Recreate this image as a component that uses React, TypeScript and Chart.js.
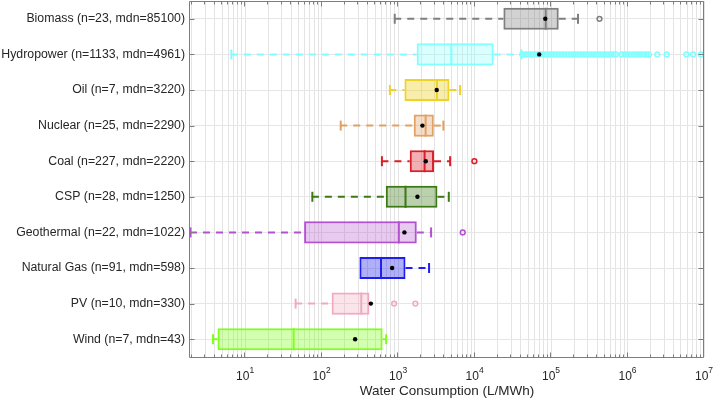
import React, { useEffect, useRef } from "react";
import { Chart, registerables } from "chart.js";

Chart.register(...registerables);

// ---------- data ----------
const categories = [
  "Biomass (n=23, mdn=85100)",
  "Hydropower (n=1133, mdn=4961)",
  "Oil (n=7, mdn=3220)",
  "Nuclear (n=25, mdn=2290)",
  "Coal (n=227, mdn=2220)",
  "CSP (n=28, mdn=1250)",
  "Geothermal (n=22, mdn=1022)",
  "Natural Gas (n=91, mdn=598)",
  "PV (n=10, mdn=330)",
  "Wind (n=7, mdn=43)",
];

const whiskerLow = [890, 6.5, 770, 175, 605, 74.5, 1.9, 312, 45, 3.74];
const quartile1 = [23800, 1750, 1210, 1600, 1420, 690, 59, 312, 135, 4.35];
const medians = [85100, 4961, 3220, 2290, 2220, 1250, 1022, 598, 330, 43];
const quartile3 = [126000, 17800, 4690, 2930, 2950, 3270, 1754, 1250, 422, 627];
const whiskerHigh = [225000, 41000, 6460, 3910, 4790, 4600, 2700, 2540, 422, 697];
const means = [84000, 70000, 3200, 2080, 2300, 1790, 1210, 835, 440, 274];

const biomassOutliers = [430000];
const hydroOutliers = [
  42000, 46000, 50000, 55000, 60000, 66000, 72000, 79000, 87000, 95000,
  104000, 114000, 125000, 137000, 150000, 165000, 181000, 198000, 217000,
  238000, 261000, 286000, 314000, 344000, 377000, 413000, 453000, 497000,
  545000, 597000, 655000, 705000, 835000, 915000, 1000000, 1100000, 1210000,
  1330000, 1460000, 1600000, 1760000, 1900000, 2450000, 3250000, 5900000,
  7200000, 9100000,
];
const coalOutliers = [9940];
const geoOutliers = [7000];
const pvOutliers = [887, 1683];
const outliers: number[][] = [
  biomassOutliers, hydroOutliers, [], [], coalOutliers, [], geoOutliers, [], pvOutliers, [],
];

const strokeColors = [
  "#7f7f7f", "#80ffff", "#eed228", "#e1a064", "#dc1e28",
  "#3c7814", "#b450d2", "#1e1ef0", "#f0aabe", "#80ff1e",
];
const fillColors = [
  "rgba(127,127,127,0.35)", "rgba(128,255,255,0.3)", "rgba(238,210,40,0.4)",
  "rgba(225,160,100,0.35)", "rgba(220,30,40,0.35)", "rgba(60,120,20,0.35)",
  "rgba(180,80,210,0.3)", "rgba(30,30,240,0.35)", "rgba(240,170,190,0.3)",
  "rgba(128,255,30,0.35)",
];

const decadeExponents = [1, 2, 3, 4, 5, 6, 7];
const xMin = 1.9;
const xMax = 1e7;
const axisTitle = "Water Consumption (L/MWh)";

const FONT = "'Liberation Sans', Arial, Helvetica, sans-serif";
const TEXT = "#262626";
const BOX_FRACTION = 0.62;

function gridTickValues(): number[] {
  const vals: number[] = [];
  for (let e = 0; e <= 6; e++) {
    for (let m = 1; m <= 9; m++) {
      const v = m * Math.pow(10, e);
      if (v >= xMin && v <= xMax) vals.push(v);
    }
  }
  vals.push(xMax);
  return vals;
}

const boxPlugin = {
  id: "boxplotExtras",
  afterDatasetsDraw(chart: any) {
    const { ctx, scales } = chart;
    const x = scales.x;
    const y = scales.y;
    const step = Math.abs(y.getPixelForValue(1) - y.getPixelForValue(0));
    const bh = step * BOX_FRACTION;
    const capH = 10;
    ctx.save();
    const line = (x1: number, y1: number, x2: number, y2: number) => {
      ctx.beginPath();
      ctx.moveTo(x1, y1);
      ctx.lineTo(x2, y2);
      ctx.stroke();
    };
    categories.forEach((_, i) => {
      const yc = y.getPixelForValue(i);
      const c = strokeColors[i];
      ctx.strokeStyle = c;
      ctx.lineWidth = 2;
      const pLo = x.getPixelForValue(whiskerLow[i]);
      const pQ1 = x.getPixelForValue(quartile1[i]);
      const pQ3 = x.getPixelForValue(quartile3[i]);
      const pHi = x.getPixelForValue(whiskerHigh[i]);
      const pMed = x.getPixelForValue(medians[i]);
      ctx.setLineDash([7, 6]);
      if (pQ1 - pLo > 1) line(pLo, yc, pQ1, yc);
      if (pHi - pQ3 > 1) line(pQ3, yc, pHi, yc);
      ctx.setLineDash([]);
      if (pQ1 - pLo > 1) line(pLo + 0.5, yc - capH / 2, pLo + 0.5, yc + capH / 2);
      if (pHi - pQ3 > 1) line(pHi, yc - capH / 2, pHi, yc + capH / 2);
      line(pMed, yc - bh / 2, pMed, yc + bh / 2);
      // outliers
      ctx.lineWidth = 1.5;
      outliers[i].forEach((v) => {
        const px = x.getPixelForValue(v);
        ctx.beginPath();
        ctx.arc(px, yc, 2.4, 0, Math.PI * 2);
        ctx.stroke();
      });
      // mean
      ctx.fillStyle = "#000";
      ctx.beginPath();
      ctx.arc(x.getPixelForValue(means[i]), yc, 2.2, 0, Math.PI * 2);
      ctx.fill();
    });
    ctx.restore();
  },
  afterDraw(chart: any) {
    const { ctx, chartArea, scales } = chart;
    const x = scales.x;
    const y = scales.y;
    const { left, right, top, bottom } = chartArea;
    ctx.save();
    ctx.strokeStyle = "#7d7d7d";
    ctx.lineWidth = 1;
    const L = Math.round(left) - 0.5;
    const R = Math.round(right) - 0.5;
    const T = Math.round(top) + 0.5;
    const B = Math.round(bottom) + 0.5;
    ctx.beginPath();
    ctx.moveTo(L, T);
    ctx.lineTo(R, T);
    ctx.lineTo(R, B);
    ctx.lineTo(L, B);
    ctx.closePath();
    ctx.stroke();
    // x tick marks
    gridTickValues().forEach((v) => {
      const px = Math.round(x.getPixelForValue(v)) - 0.5;
      const major = Math.abs(Math.log10(v) - Math.round(Math.log10(v))) < 1e-9;
      const len = major ? 5 : 3;
      ctx.beginPath();
      ctx.moveTo(px, B);
      ctx.lineTo(px, B - len);
      ctx.moveTo(px, T);
      ctx.lineTo(px, T + len);
      ctx.stroke();
    });
    // y tick marks
    categories.forEach((_, i) => {
      const py = Math.round(y.getPixelForValue(i)) + 0.5;
      ctx.beginPath();
      ctx.moveTo(L, py);
      ctx.lineTo(L + 5, py);
      ctx.moveTo(R, py);
      ctx.lineTo(R - 5, py);
      ctx.stroke();
    });
    // x tick labels (10^n)
    ctx.fillStyle = TEXT;
    ctx.textBaseline = "alphabetic";
    ctx.textAlign = "left";
    decadeExponents.forEach((e) => {
      const px = x.getPixelForValue(Math.pow(10, e));
      ctx.font = `12px ${FONT}`;
      const wBase = ctx.measureText("10").width;
      ctx.font = `8.5px ${FONT}`;
      const wExp = ctx.measureText(String(e)).width;
      const start = px - (wBase + wExp) / 2;
      ctx.font = `12px ${FONT}`;
      ctx.fillText("10", start, 379.5);
      ctx.font = `8.5px ${FONT}`;
      ctx.fillText(String(e), start + wBase, 372.5);
    });
    // axis title
    ctx.font = `13.5px ${FONT}`;
    ctx.textAlign = "center";
    ctx.fillText(axisTitle, (left + right) / 2, 394.5);
    ctx.restore();
  },
};

export default function App() {
  const ref = useRef<HTMLCanvasElement | null>(null);
  useEffect(() => {
    if (!ref.current) return;
    const chart = new Chart(ref.current, {
      type: "bar",
      data: {
        labels: categories,
        datasets: [
          {
            data: categories.map((_, i) => [quartile1[i], quartile3[i]]) as any,
            backgroundColor: fillColors,
            borderColor: strokeColors,
            borderWidth: 2,
            borderSkipped: false,
            barPercentage: BOX_FRACTION,
            categoryPercentage: 1,
          },
        ],
      },
      options: {
        indexAxis: "y",
        animation: false,
        responsive: false,
        maintainAspectRatio: false,
        layout: { padding: { top: 1, right: 10, left: 0, bottom: 0 } },
        plugins: { legend: { display: false }, tooltip: { enabled: false } },
        scales: {
          x: {
            type: "logarithmic",
            min: xMin,
            max: xMax,
            position: "bottom",
            afterBuildTicks: (s: any) => {
              s.ticks = gridTickValues().map((v) => ({ value: v }));
            },
            afterFit: (s: any) => {
              s.height = 42;
              s.paddingLeft = 0;
              s.paddingRight = 0;
            },
            ticks: { display: false },
            grid: { color: "#e4e4e4", drawTicks: false },
            border: { display: false },
          },
          y: {
            afterFit: (s: any) => {
              s.width = 190;
              s.paddingTop = 0;
              s.paddingBottom = 0;
            },
            ticks: {
              font: { family: FONT, size: 12.3 },
              color: TEXT,
              padding: 5,
            },
            grid: { color: "#e6e6e6", drawTicks: false, offset: false },
            border: { display: false },
          },
        },
      } as any,
      plugins: [boxPlugin],
    });
    return () => chart.destroy();
  }, []);
  return (
    <div style={{ position: "fixed", left: 0, top: 0, width: 714, height: 399, background: "#fff" }}>
      <canvas ref={ref} width={714} height={399} style={{ display: "block", width: 714, height: 399 }} />
    </div>
  );
}
